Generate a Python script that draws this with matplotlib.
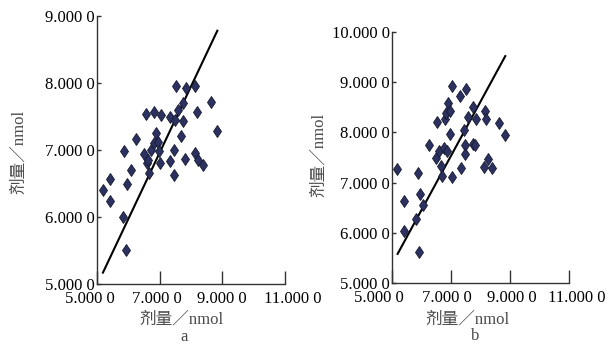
import matplotlib
matplotlib.use("Agg")
import matplotlib.pyplot as plt
from matplotlib.ticker import FuncFormatter
from matplotlib.transforms import ScaledTranslation

# ---- data: panel a ----
a_x = [5.18, 5.42, 5.42, 5.87, 5.95, 6.08, 5.83, 5.93, 6.25, 6.57, 6.83, 7.05,
       6.50, 6.59, 6.67, 6.72, 6.82, 6.88, 6.94, 6.99, 7.01, 6.64, 7.33, 7.47,
       7.47, 7.33, 7.49, 7.57, 7.53, 7.74, 7.67, 7.76, 7.84, 7.81, 8.13, 8.20,
       8.13, 8.23, 8.37, 8.63, 8.84]
a_y = [6.41, 6.57, 6.24, 6.99, 6.49, 6.70, 6.00, 5.51, 7.16, 7.53, 7.56, 7.52,
       6.94, 6.80, 6.65, 7.00, 7.10, 7.25, 7.12, 6.98, 6.80, 6.85, 6.83, 7.00,
       6.62, 7.50, 7.45, 7.60, 7.95, 7.43, 7.21, 7.70, 7.93, 6.86, 7.96, 7.57,
       6.95, 6.85, 6.78, 7.71, 7.29]
a_fit_x = [5.19, 8.84]
a_fit_y = [5.17, 8.78]

# ---- data: panel b ----
b_x = [5.17, 5.42, 5.42, 5.87, 5.94, 6.05, 5.80, 5.90, 6.24, 6.54, 6.50, 6.58,
       6.66, 6.69, 6.78, 6.84, 6.89, 6.96, 6.75, 6.86, 6.96, 7.02, 7.04, 7.32,
       7.52, 7.34, 7.43, 7.48, 7.48, 7.56, 7.74, 7.85, 7.74, 7.82, 8.16, 8.19,
       8.12, 8.24, 8.38, 8.64, 8.83]
b_y = [7.27, 6.63, 6.03, 7.20, 6.78, 6.56, 6.27, 5.61, 7.74, 8.20, 7.49, 7.62,
       7.34, 7.14, 8.27, 8.39, 8.59, 8.42, 7.69, 7.62, 7.97, 7.11, 8.93, 8.72,
       8.86, 7.29, 8.05, 7.74, 7.56, 8.31, 8.51, 8.27, 7.76, 7.74, 8.42, 8.27,
       7.31, 7.47, 7.29, 8.19, 7.95]
b_fit_x = [5.19, 8.84]
b_fit_y = [5.58, 9.52]

x_ticks = [5, 7, 9, 11]
a_y_ticks = [5, 6, 7, 8, 9]
b_y_ticks = [5, 6, 7, 8, 9, 10]
axis_label = "剂量／nmol"
panel_labels = ["a", "b"]

serif = ["Liberation Serif", "Noto Sans CJK SC", "DejaVu Sans"]
plt.rcParams["font.family"] = serif

fmt = FuncFormatter(lambda v, p: "%.3f 0" % v)

W, H = 612, 346
fig = plt.figure(figsize=(W / 100, H / 100), dpi=100)
ax_a = fig.add_axes([97/W, 1-284/H, (285-97)/W, (284-16)/H])
ax_b = fig.add_axes([392/W, 1-283/H, (569-392)/W, (283-32)/H])

# per-panel layout (pixels)
layout = [
    dict(ax=ax_a, xs=a_x, ys=a_y, fx=a_fit_x, fy=a_fit_y, yt=a_y_ticks, ylim=(5, 9),
         xoff=[-7, -3, -1, 8], ylab=(19, 152), xlab=(182, 320), plab=(184, 341)),
    dict(ax=ax_b, xs=b_x, ys=b_y, fx=b_fit_x, fy=b_fit_y, yt=b_y_ticks, ylim=(5, 10),
         xoff=[-13, -4, 2, 8], ylab=(319, 155), xlab=(468, 320), plab=(475, 340)),
]
lab_color = "#4a4a4a"
for i, L in enumerate(layout):
    ax = L["ax"]
    ax.plot(L["fx"], L["fy"], color="black", lw=1.5, zorder=2)
    ax.plot(L["xs"], L["ys"], linestyle="none", marker="d", ms=6.4,
            markerfacecolor="#2b3262", markeredgecolor="#15182e",
            markeredgewidth=0.6, zorder=3)
    ax.set_xlim(5, 11)
    ax.set_ylim(*L["ylim"])
    ax.set_xticks(x_ticks)
    ax.set_yticks(L["yt"])
    ax.xaxis.set_major_formatter(fmt)
    ax.yaxis.set_major_formatter(fmt)
    for s in ("top", "right"):
        ax.spines[s].set_visible(False)
    for s in ("left", "bottom"):
        ax.spines[s].set_color("#333333")
        ax.spines[s].set_linewidth(1.0)
    ax.tick_params(axis="x", direction="in", length=9.5, width=1.0,
                   color="#333333", labelsize=12, pad=4.8)
    ax.tick_params(axis="y", direction="in", length=3, width=1.0,
                   color="#333333", labelsize=12, pad=1.5)
    fig.canvas.draw()
    for lbl, off in zip(ax.get_xticklabels(), L["xoff"]):
        lbl.set_transform(lbl.get_transform() +
                          ScaledTranslation(off / 100, 0, fig.dpi_scale_trans))
    fig.text(L["ylab"][0] / W, 1 - L["ylab"][1] / H, axis_label, rotation=90,
             fontsize=12, color=lab_color, ha="center", va="center")
    fig.text(L["xlab"][0] / W, 1 - L["xlab"][1] / H, axis_label,
             fontsize=12, color=lab_color, ha="center", va="center")
    fig.text(L["plab"][0] / W, 1 - L["plab"][1] / H, panel_labels[i],
             fontsize=12, color=lab_color, ha="center", va="baseline")

fig.savefig("out.png", dpi=100)
